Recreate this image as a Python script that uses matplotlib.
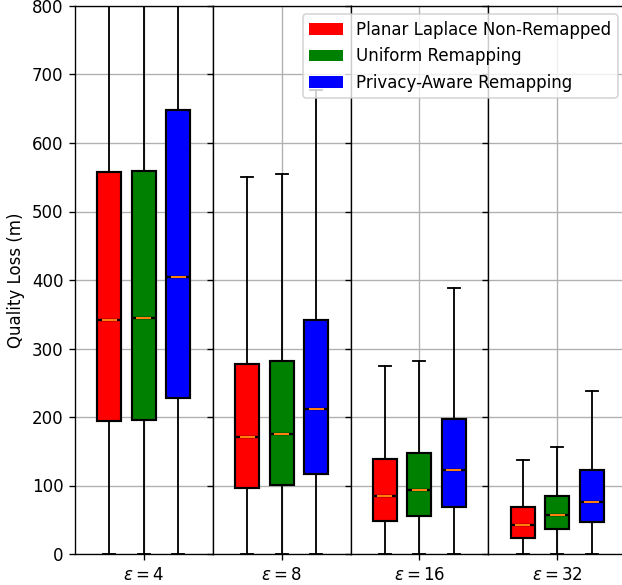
import matplotlib.pyplot as plt
from matplotlib.patches import Patch

eps_values = [4, 8, 16, 32]
series_names = ['Planar Laplace Non-Remapped', 'Uniform Remapping', 'Privacy-Aware Remapping']
colors = ['red', 'green', 'blue']

# box statistics per series, one value per epsilon
planar_q1 = [194, 97, 48, 24]
planar_med = [342, 171, 85, 43]
planar_q3 = [557, 278, 139, 69]
planar_hi = [1100, 550, 275, 137]

uniform_q1 = [196, 101, 56, 37]
uniform_med = [345, 175, 93, 57]
uniform_q3 = [559, 282, 147, 85]
uniform_hi = [1100, 555, 282, 156]

aware_q1 = [228, 117, 68, 46]
aware_med = [405, 212, 122, 76]
aware_q3 = [648, 341, 197, 123]
aware_hi = [1280, 677, 388, 238]

whisker_lo = [0, 0, 0, 0]

series_stats = [
    (planar_q1, planar_med, planar_q3, planar_hi),
    (uniform_q1, uniform_med, uniform_q3, uniform_hi),
    (aware_q1, aware_med, aware_q3, aware_hi),
]

fig = plt.figure(figsize=(622 / 120, 585 / 120), dpi=120)
left, right, bottom, top = 75 / 622, 626 / 622, 31 / 585, 579 / 585
w = (right - left) / 4
axes = []
for i in range(4):
    ax = fig.add_axes([left + i * w, bottom, w, top - bottom], sharey=axes[0] if axes else None)
    axes.append(ax)

for i, (ax, eps) in enumerate(zip(axes, eps_values)):
    stats = []
    for q1, med, q3, hi in series_stats:
        stats.append({'q1': q1[i], 'med': med[i], 'q3': q3[i],
                      'whislo': whisker_lo[i], 'whishi': hi[i], 'fliers': []})
    bp = ax.bxp(stats, positions=[1, 2, 3], widths=0.7, patch_artist=True,
                showfliers=False,
                boxprops=dict(edgecolor='black', linewidth=1.3),
                whiskerprops=dict(color='black', linewidth=1.1),
                capprops=dict(color='black', linewidth=1.1),
                medianprops=dict(color='black', linewidth=1.4))
    for patch, c in zip(bp['boxes'], colors):
        patch.set_facecolor(c)
    for line in bp['medians']:
        xs = line.get_xdata()
        ys = line.get_ydata()
        cx = (xs[0] + xs[-1]) / 2
        ax.plot([cx - 0.19, cx + 0.19], [ys[0], ys[0]], color='tab:orange', linewidth=1.2, zorder=3)
    ax.set_xlim(0, 4)
    ax.set_xticks([2])
    ax.set_xticklabels([r'$\varepsilon = %d$' % eps])
    ax.set_axisbelow(True)
    ax.grid(True)
    if i > 0:
        ax.tick_params(labelleft=False)

axes[0].set_ylim(0, 800)
axes[0].set_ylabel('Quality Loss (m)')

handles = [Patch(facecolor=c, label=n) for c, n in zip(colors, series_names)]
axes[-1].legend(handles=handles, loc='upper right')

fig.savefig('out.png', dpi=120)
